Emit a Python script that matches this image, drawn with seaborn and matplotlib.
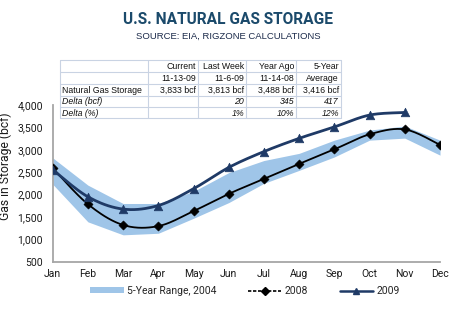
import numpy as np
import pandas as pd
import matplotlib
matplotlib.use("Agg")
import matplotlib.pyplot as plt
import seaborn as sns
from matplotlib.lines import Line2D
from matplotlib.patches import Patch

# ---------------- data ----------------
months = ['Jan', 'Feb', 'Mar', 'Apr', 'May', 'Jun', 'Jul', 'Aug', 'Sep', 'Oct', 'Nov', 'Dec']
band_low = [2230, 1390, 1100, 1135, 1470, 1820, 2250, 2540, 2840, 3215, 3260, 2880]
band_high = [2820, 2210, 1800, 1800, 2070, 2490, 2760, 2920, 3215, 3440, 3530, 3215]
s2008 = [2590, 1785, 1320, 1295, 1630, 2015, 2350, 2685, 3010, 3345, 3455, 3110]
s2009 = [2555, 1950, 1675, 1755, 2130, 2605, 2960, 3255, 3510, 3775, 3833]
ticks_y = [500, 1000, 1500, 2000, 2500, 3000, 3500, 4000]

table_header1 = ['', 'Current', 'Last Week', 'Year Ago', '5-Year']
table_header2 = ['', '11-13-09', '11-6-09', '11-14-08', 'Average']
table_storage = ['Natural Gas Storage', '3,833 bcf', '3,813 bcf', '3,488 bcf', '3,416 bcf']
table_delta_bcf = ['Delta (bcf)', '', '20', '345', '417']
table_delta_pct = ['Delta (%)', '', '1%', '10%', '12%']

title = 'U.S. NATURAL GAS STORAGE'
subtitle = 'SOURCE: EIA, RIGZONE CALCULATIONS'

# ---------------- style ----------------
sns.set_style('white')
NARROW = ['Liberation Sans Narrow', 'Roboto', 'DejaVu Sans']
plt.rcParams['font.family'] = ['Liberation Sans', 'DejaVu Sans']

W, H = 450, 322
fig = plt.figure(figsize=(4.5, 3.22), dpi=100)

def fx(px):
    return px / W

def fy(py):
    return 1 - py / H

ax_l, ax_r, ax_t, ax_b = 52.7, 440.0, 105.0, 261.7
ax = fig.add_axes([fx(ax_l), fy(ax_b), fx(ax_r - ax_l), (ax_b - ax_t) / H])

def smooth(y):
    """Bezier smoothing (Excel-like) through the given points for drawing."""
    y = np.asarray(y, dtype=float)
    x = np.arange(len(y), dtype=float)
    pts = np.column_stack([x, y])
    out = []
    t = np.linspace(0, 1, 20)[:, None]
    n = len(pts)
    for i in range(n - 1):
        p0 = pts[i - 1] if i > 0 else pts[i]
        p1 = pts[i]
        p2 = pts[i + 1]
        p3 = pts[i + 2] if i + 2 < n else pts[i + 1]
        c1 = p1 + (p2 - p0) / 6.0
        c2 = p2 - (p3 - p1) / 6.0
        seg = ((1 - t) ** 3) * p1 + 3 * ((1 - t) ** 2) * t * c1 + 3 * (1 - t) * t ** 2 * c2 + t ** 3 * p2
        out.append(seg if i == 0 else seg[1:])
    out = np.vstack(out)
    return out[:, 0], out[:, 1]

band_color = '#9FC5E8'
c2009 = '#1F3A66'
c2008 = '#000000'

x_all = np.arange(len(months))
ax.fill_between(x_all, band_low, band_high, color=band_color, lw=0, zorder=1)

sx, sy = smooth(s2008)
sns.lineplot(x=sx, y=sy, ax=ax, color=c2008, lw=1.3, zorder=3, sort=False)
sns.scatterplot(x=np.arange(len(s2008)), y=s2008, ax=ax, marker='D', s=22,
                color=c2008, edgecolor=c2008, zorder=4)

sx, sy = smooth(s2009)
sns.lineplot(x=sx, y=sy, ax=ax, color=c2009, lw=2.0, zorder=5, sort=False)
sns.scatterplot(x=np.arange(len(s2009)), y=s2009, ax=ax, marker='^', s=38,
                color=c2009, edgecolor=c2009, zorder=6)

ax.set_xlim(0, 11)
ax.set_ylim(500, 4000)
ax.set_xticks(x_all)
ax.set_xticklabels(months)
ax.set_yticks(ticks_y)
ax.set_yticklabels([f'{v:,}' for v in ticks_y])
ax.set_xlabel('')
ax.set_ylabel('Gas in Storage (bcf)', fontsize=8.7, color='#1a1a1a')
ax.yaxis.set_label_coords(-(ax_l - 12) / (ax_r - ax_l), (ax_b - 166.5) / (ax_b - ax_t))
for s in ['top', 'right']:
    ax.spines[s].set_visible(False)
for s in ['left', 'bottom']:
    ax.spines[s].set_color('#A6A6A6')
    ax.spines[s].set_linewidth(1.3)
ax.tick_params(axis='x', direction='inout', length=7, width=1, color='#A6A6A6',
               labelsize=7.5, labelcolor='#1a1a1a', pad=2)
ax.tick_params(axis='y', direction='out', length=4, width=1, color='#A6A6A6',
               labelsize=7.5, labelcolor='#1a1a1a', pad=3)
for lab in ax.get_xticklabels() + ax.get_yticklabels():
    lab.set_family(NARROW)
ax.yaxis.label.set_family(NARROW)
ax.patch.set_alpha(0)

# ---------------- titles ----------------
fig.text(fx(228), fy(19.5), title, ha='center', va='center', fontsize=11.2,
         fontweight='bold', color='#1B4A6B', family=NARROW)
fig.text(fx(228), fy(36), subtitle, ha='center', va='center', fontsize=6.8,
         color='#1B2A4A', family=['Liberation Sans', 'DejaVu Sans'])

# ---------------- table ----------------
col_edges = [60, 148, 198, 246, 296, 341]
row_edges = [60, 72.3, 84, 95.7, 107.3, 118.3]
grid_c = '#C9D3E3'
for xe in col_edges:
    fig.add_artist(Line2D([fx(xe), fx(xe)], [fy(row_edges[0]), fy(row_edges[-1])],
                          color=grid_c, lw=0.8))
for ye in row_edges:
    fig.add_artist(Line2D([fx(col_edges[0]), fx(col_edges[-1])], [fy(ye), fy(ye)],
                          color=grid_c, lw=0.8))
rows = [table_header1, table_header2, table_storage, table_delta_bcf, table_delta_pct]
for r, row in enumerate(rows):
    yc = (row_edges[r] + row_edges[r + 1]) / 2 + 0.5
    italic = r >= 3
    for c, txt in enumerate(row):
        if not txt:
            continue
        if c == 0:
            xp, ha = col_edges[0] + 2, 'left'
        else:
            xp, ha = col_edges[c + 1] - 2, 'right'
        fig.text(fx(xp), fy(yc), txt, ha=ha, va='center', fontsize=6.3,
                 color='#111111', style='italic' if italic else 'normal',
                 family=['Liberation Sans', 'DejaVu Sans'])

# ---------------- legend ----------------
handles = [
    Patch(facecolor=band_color, edgecolor='none'),
    Line2D([], [], color=c2008, lw=1.2, ls=(0, (2, 1)), marker='D', ms=4),
    Line2D([], [], color=c2009, lw=1.8, marker='^', ms=5),
]
labels = ['5-Year Range, 2004', '2008', '2009']
leg = fig.legend(handles, labels, loc='center', bbox_to_anchor=(fx(245), fy(291)),
                 ncol=3, frameon=False, handlelength=3.2,
                 handleheight=0.5, handletextpad=0.35, columnspacing=3.0,
                 prop={'family': NARROW, 'size': 7.5})

fig.savefig('out.png', dpi=100, facecolor='white')
